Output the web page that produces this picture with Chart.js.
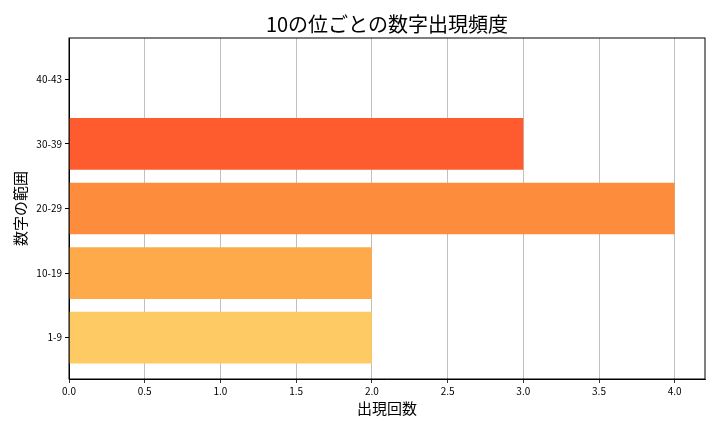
<!DOCTYPE html>
<html>
<head>
<meta charset="utf-8">
<script src="https://cdn.jsdelivr.net/npm/chart.js@4.4.1/dist/chart.umd.min.js"></script>
<style>
  html, body { margin: 0; padding: 0; background: #fff; }
  #wrap { width: 720px; height: 432px; }
</style>
</head>
<body>
<div id="wrap"><canvas id="myChart" width="720" height="432"></canvas></div>
<script>
// Data (bottom to top)
const categories = ['1-9', '10-19', '20-29', '30-39', '40-43'];
const counts = [2, 2, 4, 3, 0];
const barColors = ['#FECA63', '#FEAA4A', '#FE8C3D', '#FE5B2E', '#F03B20'];
const xTicks = [0, 0.5, 1, 1.5, 2, 2.5, 3, 3.5, 4];
const chartTitle = '10の位ごとの数字出現頻度';

const FONT = "'Noto Sans CJK JP', 'Noto Sans', sans-serif";

// frame round the plot area (matplotlib spines) and the title centred over it
const framePlugin = {
  id: 'frame',
  afterDatasetsDraw(chart) {
    const a = chart.chartArea;
    const c = chart.ctx;
    c.save();
    c.strokeStyle = '#000';
    c.lineWidth = 1;
    c.strokeRect(a.left, a.top, a.right - a.left, a.bottom - a.top);
    c.fillStyle = '#000';
    c.font = '20px ' + FONT;
    c.textAlign = 'center';
    c.textBaseline = 'middle';
    c.fillText(chartTitle, (a.left + a.right) / 2, 24);
    c.restore();
  }
};

const ctx = document.getElementById('myChart').getContext('2d');
const myChart = new Chart(ctx, {
  type: 'bar',
  data: {
    datasets: [{
      data: counts.map((v, i) => ({ x: v, y: i })),
      backgroundColor: barColors,
      borderWidth: 0,
      barPercentage: 0.8,
      categoryPercentage: 1.0
    }]
  },
  options: {
    indexAxis: 'y',
    responsive: false,
    animation: false,
    layout: { padding: { top: 38, right: 15, bottom: 0, left: 0 } },
    scales: {
      x: {
        type: 'linear',
        min: 0,
        max: 4.2,
        z: 1,
        afterFit(scale) { scale.height = 53; },
        afterBuildTicks(scale) { scale.ticks = xTicks.map(v => ({ value: v })); },
        grid: {
          color: '#b0b0b0',
          lineWidth: 0.8,
          tickColor: '#000',
          tickLength: 4
        },
        border: { color: '#000' },
        ticks: {
          color: '#000',
          padding: 2,
          maxRotation: 0,
          font: { family: FONT, size: 10 },
          callback: v => v.toFixed(1)
        },
        title: {
          display: true,
          text: '出現回数',
          color: '#000',
          font: { family: FONT, size: 15 },
          padding: { top: 4, bottom: 15 }
        }
      },
      y: {
        type: 'linear',
        min: -0.64,
        max: 4.64,
        offset: false,
        afterFit(scale) { scale.width = 69; },
        afterBuildTicks(scale) { scale.ticks = categories.map((c, i) => ({ value: i })); },
        grid: {
          offset: false,
          drawOnChartArea: false,
          tickColor: '#000',
          tickLength: 4
        },
        border: { color: '#000' },
        ticks: {
          color: '#000',
          padding: 3,
          font: { family: FONT, size: 10 },
          callback: v => categories[v] || ''
        },
        title: {
          display: true,
          text: '数字の範囲',
          color: '#000',
          font: { family: FONT, size: 15 },
          padding: { top: 11, bottom: 4 }
        }
      }
    },
    plugins: {
      legend: { display: false },
      tooltip: { enabled: false },
      title: { display: false }
    }
  },
  plugins: [framePlugin]
});
</script>
</body>
</html>
